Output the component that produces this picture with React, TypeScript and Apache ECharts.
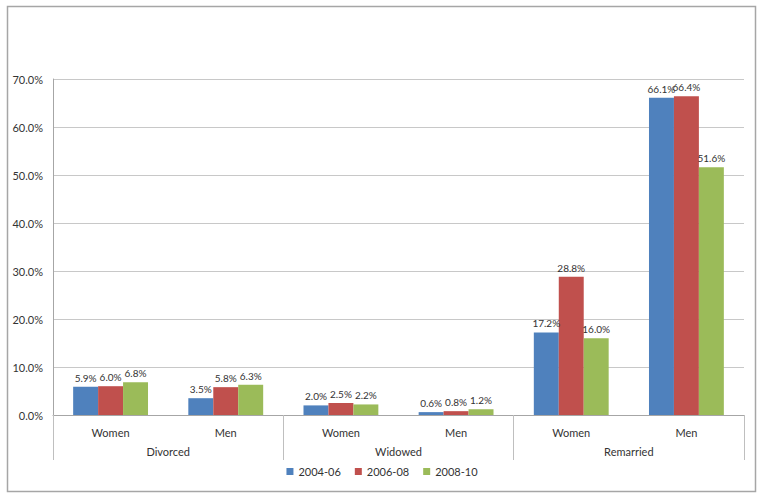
import React, { useEffect, useRef } from "react";
import * as echarts from "echarts";

const subCategories = ["Women", "Men", "Women", "Men", "Women", "Men"];
const groups = ["Divorced", "Widowed", "Remarried"];
const seriesNames = ["2004-06", "2006-08", "2008-10"];
const values2004 = [5.9, 3.5, 2.0, 0.6, 17.2, 66.1];
const values2006 = [6.0, 5.8, 2.5, 0.8, 28.8, 66.4];
const values2008 = [6.8, 6.3, 2.2, 1.2, 16.0, 51.6];
const colors = ["#4F81BD", "#C0504D", "#9BBB59"];
const yTicks = [0, 10, 20, 30, 40, 50, 60, 70];

const FONT = "Lato, 'Open Sans', sans-serif";

export default function App() {
  const ref = useRef<HTMLDivElement>(null);
  useEffect(() => {
    if (!ref.current) return;
    const chart = echarts.init(ref.current, undefined, { renderer: "svg" });
    const allValues = [values2004, values2006, values2008];
    chart.setOption({
      animation: false,
      textStyle: { fontFamily: FONT },
      graphic: [
        {
          type: "rect",
          shape: { x: 7.5, y: 6.5, width: 748, height: 485 },
          style: { fill: "none", stroke: "#a6a6a6", lineWidth: 1.5 },
          silent: true,
        },
      ],
      grid: { left: 53, right: 20, top: 79, bottom: 84 },
      legend: {
        bottom: 17,
        left: "center",
        itemWidth: 7,
        itemHeight: 7,
        itemGap: 14,
        icon: "rect",
        textStyle: { fontSize: 11, color: "#333", fontFamily: FONT },
        data: seriesNames,
      },
      xAxis: [
        {
          type: "category",
          data: subCategories,
          position: "bottom",
          axisLine: { show: true, lineStyle: { color: "#a6a6a6" } },
          axisTick: { show: false },
          axisLabel: { color: "#333", fontSize: 11, margin: 12, fontFamily: FONT },
        },
        {
          type: "category",
          data: groups,
          position: "bottom",
          axisLine: { show: false },
          axisTick: {
            show: true,
            interval: 0,
            length: 45,
            lineStyle: { color: "#bfbfbf" },
          },
          axisLabel: { color: "#333", fontSize: 11, margin: 31, fontFamily: FONT },
        },
      ],
      yAxis: {
        type: "value",
        min: 0,
        max: 70,
        interval: 10,
        axisLine: { show: true, lineStyle: { color: "#a6a6a6" } },
        axisTick: { show: false },
        splitLine: { lineStyle: { color: "#c8c8c8" } },
        axisLabel: {
          color: "#333",
          fontSize: 11,
          margin: 10,
          fontFamily: FONT,
          formatter: (v: number) => (yTicks.includes(v) ? v.toFixed(1) + "%" : ""),
        },
      },
      series: seriesNames.map((name, i) => ({
        name,
        type: "bar",
        xAxisIndex: 0,
        data: allValues[i],
        itemStyle: { color: colors[i] },
        barGap: "0%",
        barCategoryGap: "35%",
        label: {
          show: true,
          position: "top",
          distance: 4,
          fontSize: 10,
          color: "#333",
          fontFamily: FONT,
          formatter: (p: any) => Number(p.value).toFixed(1) + "%",
        },
      })),
    });
    return () => chart.dispose();
  }, []);
  return (
    <div
      ref={ref}
      style={{ position: "absolute", left: 0, top: 0, width: 764, height: 499, background: "#fff" }}
    />
  );
}
